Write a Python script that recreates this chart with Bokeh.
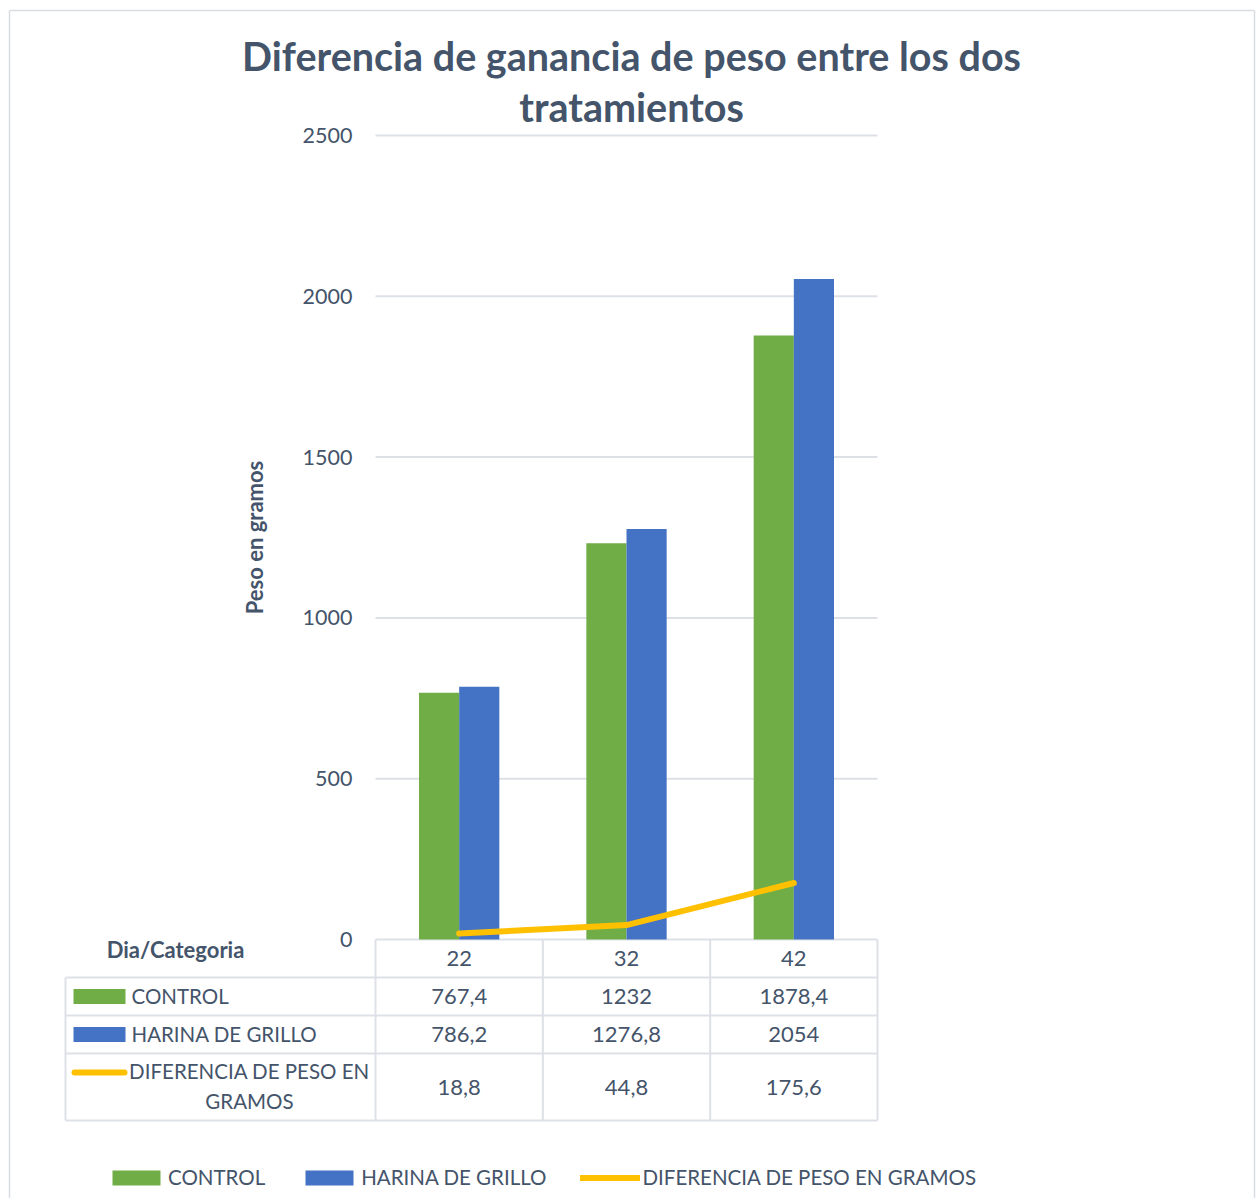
import numpy as np
from bokeh.plotting import figure
from bokeh.models import Range1d, LinearAxis, FixedTicker, Legend, LegendItem
from bokeh.core.properties import value
from bokeh.embed import file_html
from bokeh.resources import INLINE

# ---------------- data ----------------
days = ["22", "32", "42"]
series_names = ["CONTROL", "HARINA DE GRILLO", "DIFERENCIA DE PESO EN GRAMOS"]
control = [767.4, 1232, 1878.4]
harina = [786.2, 1276.8, 2054]
diferencia = [18.8, 44.8, 175.6]
y_ticks = [0, 500, 1000, 1500, 2000, 2500]
title_lines = ["Diferencia de ganancia de peso entre los dos", "tratamientos"]
y_label = "Peso en gramos"
table_corner = "Dia/Categoria"
table_row_labels = ["CONTROL", "HARINA DE GRILLO"]
table_row3_lines = ["DIFERENCIA DE PESO EN", "GRAMOS"]

# ---------------- style / layout ----------------
GREEN = "#70ad47"
BLUE = "#4472c4"
GOLD = "#ffc000"
TXT = "#44546a"
GRID = "#dde1e7"
FONT = "Lato"
FS = "22px"      # numbers
FSL = "20.5px"   # caps labels

W, H = 1256, 1198
PL, PT = 0, 0                        # page offset of the figure
FL, FR, FT, FB = 375, 877, 135, 939  # chart frame on the page
n = len(days)
U = (FR - FL) / n
S = (FB - FT) / y_ticks[-1]

p = figure(width=W, height=H, output_backend="svg", toolbar_location=None,
           x_axis_location=None, y_axis_location=None,
           x_range=Range1d((PL - FL) / U, (PL + W - FL) / U),
           y_range=Range1d(-(PT + H - FB) / S, (FB - PT) / S),
           min_border=0)
p.extra_x_ranges = {"px": Range1d(PL, PL + W)}
p.extra_y_ranges = {"px": Range1d(PT + H, PT)}
p.xgrid.visible = False
p.ygrid.visible = False
p.outline_line_color = None
p.background_fill_color = "white"
p.border_fill_color = "white"

# outer chart border (left, top, right)
p.segment(x0=[9, 9, 1254], x1=[9, 1254, 1254], y0=[10, 10, 10], y1=[H + 5, 10, H + 5],
          x_range_name="px", y_range_name="px", line_color="#d9dde3", line_width=1.5)

# y axis at category-edge 0
yax = LinearAxis(fixed_location=0, ticker=FixedTicker(ticks=y_ticks))
yax.axis_line_color = None
yax.major_tick_line_color = None
yax.minor_tick_line_color = None
yax.major_tick_out = 0
yax.major_label_standoff = 23
yax.major_label_text_font = FONT
yax.major_label_text_font_size = "21.5px"
yax.major_label_text_color = TXT
p.add_layout(yax, "left")

# y axis title
p.text(x=[254], y=[(FT + FB) / 2], text=[y_label], angle=np.pi / 2,
       x_range_name="px", y_range_name="px", text_font=value(FONT),
       text_font_size=FS, text_font_style="bold", text_color=TXT,
       text_align="center", text_baseline="middle")

# gridlines
p.segment(x0=[0] * len(y_ticks), x1=[n] * len(y_ticks), y0=y_ticks, y1=y_ticks,
          line_color=GRID, line_width=2)

xs = np.arange(n) + 0.5
bw = 0.24
r_c = p.vbar(x=xs - bw / 2, top=control, width=bw, fill_color=GREEN, line_color=None)
r_h = p.vbar(x=xs + bw / 2, top=harina, width=bw, fill_color=BLUE, line_color=None)
r_d = p.line(xs, diferencia, line_color=GOLD, line_width=6, line_cap="round", line_join="round")

# title
p.text(x=[631, 631], y=[55, 106], text=title_lines, x_range_name="px", y_range_name="px",
       text_font=value(FONT), text_font_size="39.5px", text_font_style="bold",
       text_color=TXT, text_align="center", text_baseline="middle")

# ---------------- data table ----------------
TT, HB = FB, 977
row_bottoms = [1015, 1053, 1120]
row_y = [996, 1034, 1087]
TL = 65
# vertical lines at category edges
p.segment(x0=list(range(n + 1)), x1=list(range(n + 1)),
          y0=[TT] * (n + 1), y1=[row_bottoms[-1]] * (n + 1),
          y_range_name="px", line_color=GRID, line_width=2)
# left border
p.segment(x0=[TL], x1=[TL], y0=[HB], y1=[row_bottoms[-1]],
          x_range_name="px", y_range_name="px", line_color=GRID, line_width=2)
# horizontal lines
hy = [HB] + row_bottoms
p.segment(x0=[TL] * len(hy), x1=[FR] * len(hy), y0=hy, y1=hy,
          x_range_name="px", y_range_name="px", line_color=GRID, line_width=2)

def fmt(v):
    return f"{v:g}".replace(".", ",")

num_kw = dict(text_font=value(FONT), text_font_size=FS, text_color=TXT,
              text_baseline="middle")
lab_kw = dict(text_font=value(FONT), text_font_size=FSL, text_color=TXT,
              text_baseline="middle")
p.text(x=xs, y=[958] * n, text=days, y_range_name="px", text_align="center", **num_kw)
for vals, yy in zip([control, harina, diferencia], row_y):
    p.text(x=xs, y=[yy] * n, text=[fmt(v) for v in vals], y_range_name="px",
           text_align="center", **num_kw)

p.text(x=[175], y=[949], text=[table_corner], x_range_name="px", y_range_name="px",
       text_align="center", text_font_style="bold", **num_kw)

# row labels
p.text(x=[131, 131], y=[995, 1033], text=table_row_labels, x_range_name="px",
       y_range_name="px", text_align="left", **lab_kw)
p.text(x=[249, 249], y=[1070, 1100], text=table_row3_lines, x_range_name="px",
       y_range_name="px", text_align="center", **lab_kw)
# row swatches
p.rect(x=[99, 99], y=row_y[:2], width=52, height=15, fill_color=[GREEN, BLUE],
       line_color=None, x_range_name="px", y_range_name="px")
p.segment(x0=[74], x1=[124], y0=[1072], y1=[1072], line_color=GOLD, line_width=6,
          line_cap="round", x_range_name="px", y_range_name="px")

# ---------------- legend ----------------
legend = Legend(items=[LegendItem(label=series_names[0], renderers=[r_c]),
                       LegendItem(label=series_names[1], renderers=[r_h]),
                       LegendItem(label=series_names[2], renderers=[r_d])],
                orientation="horizontal", location=(106, 9),
                glyph_width=60, glyph_height=19, label_standoff=2, spacing=34,
                padding=0, margin=0, border_line_color=None, background_fill_alpha=0,
                label_text_font=FONT, label_text_font_size=FSL, label_text_color=TXT)
p.add_layout(legend)

open("out.html", "w").write(file_html(p, INLINE))
